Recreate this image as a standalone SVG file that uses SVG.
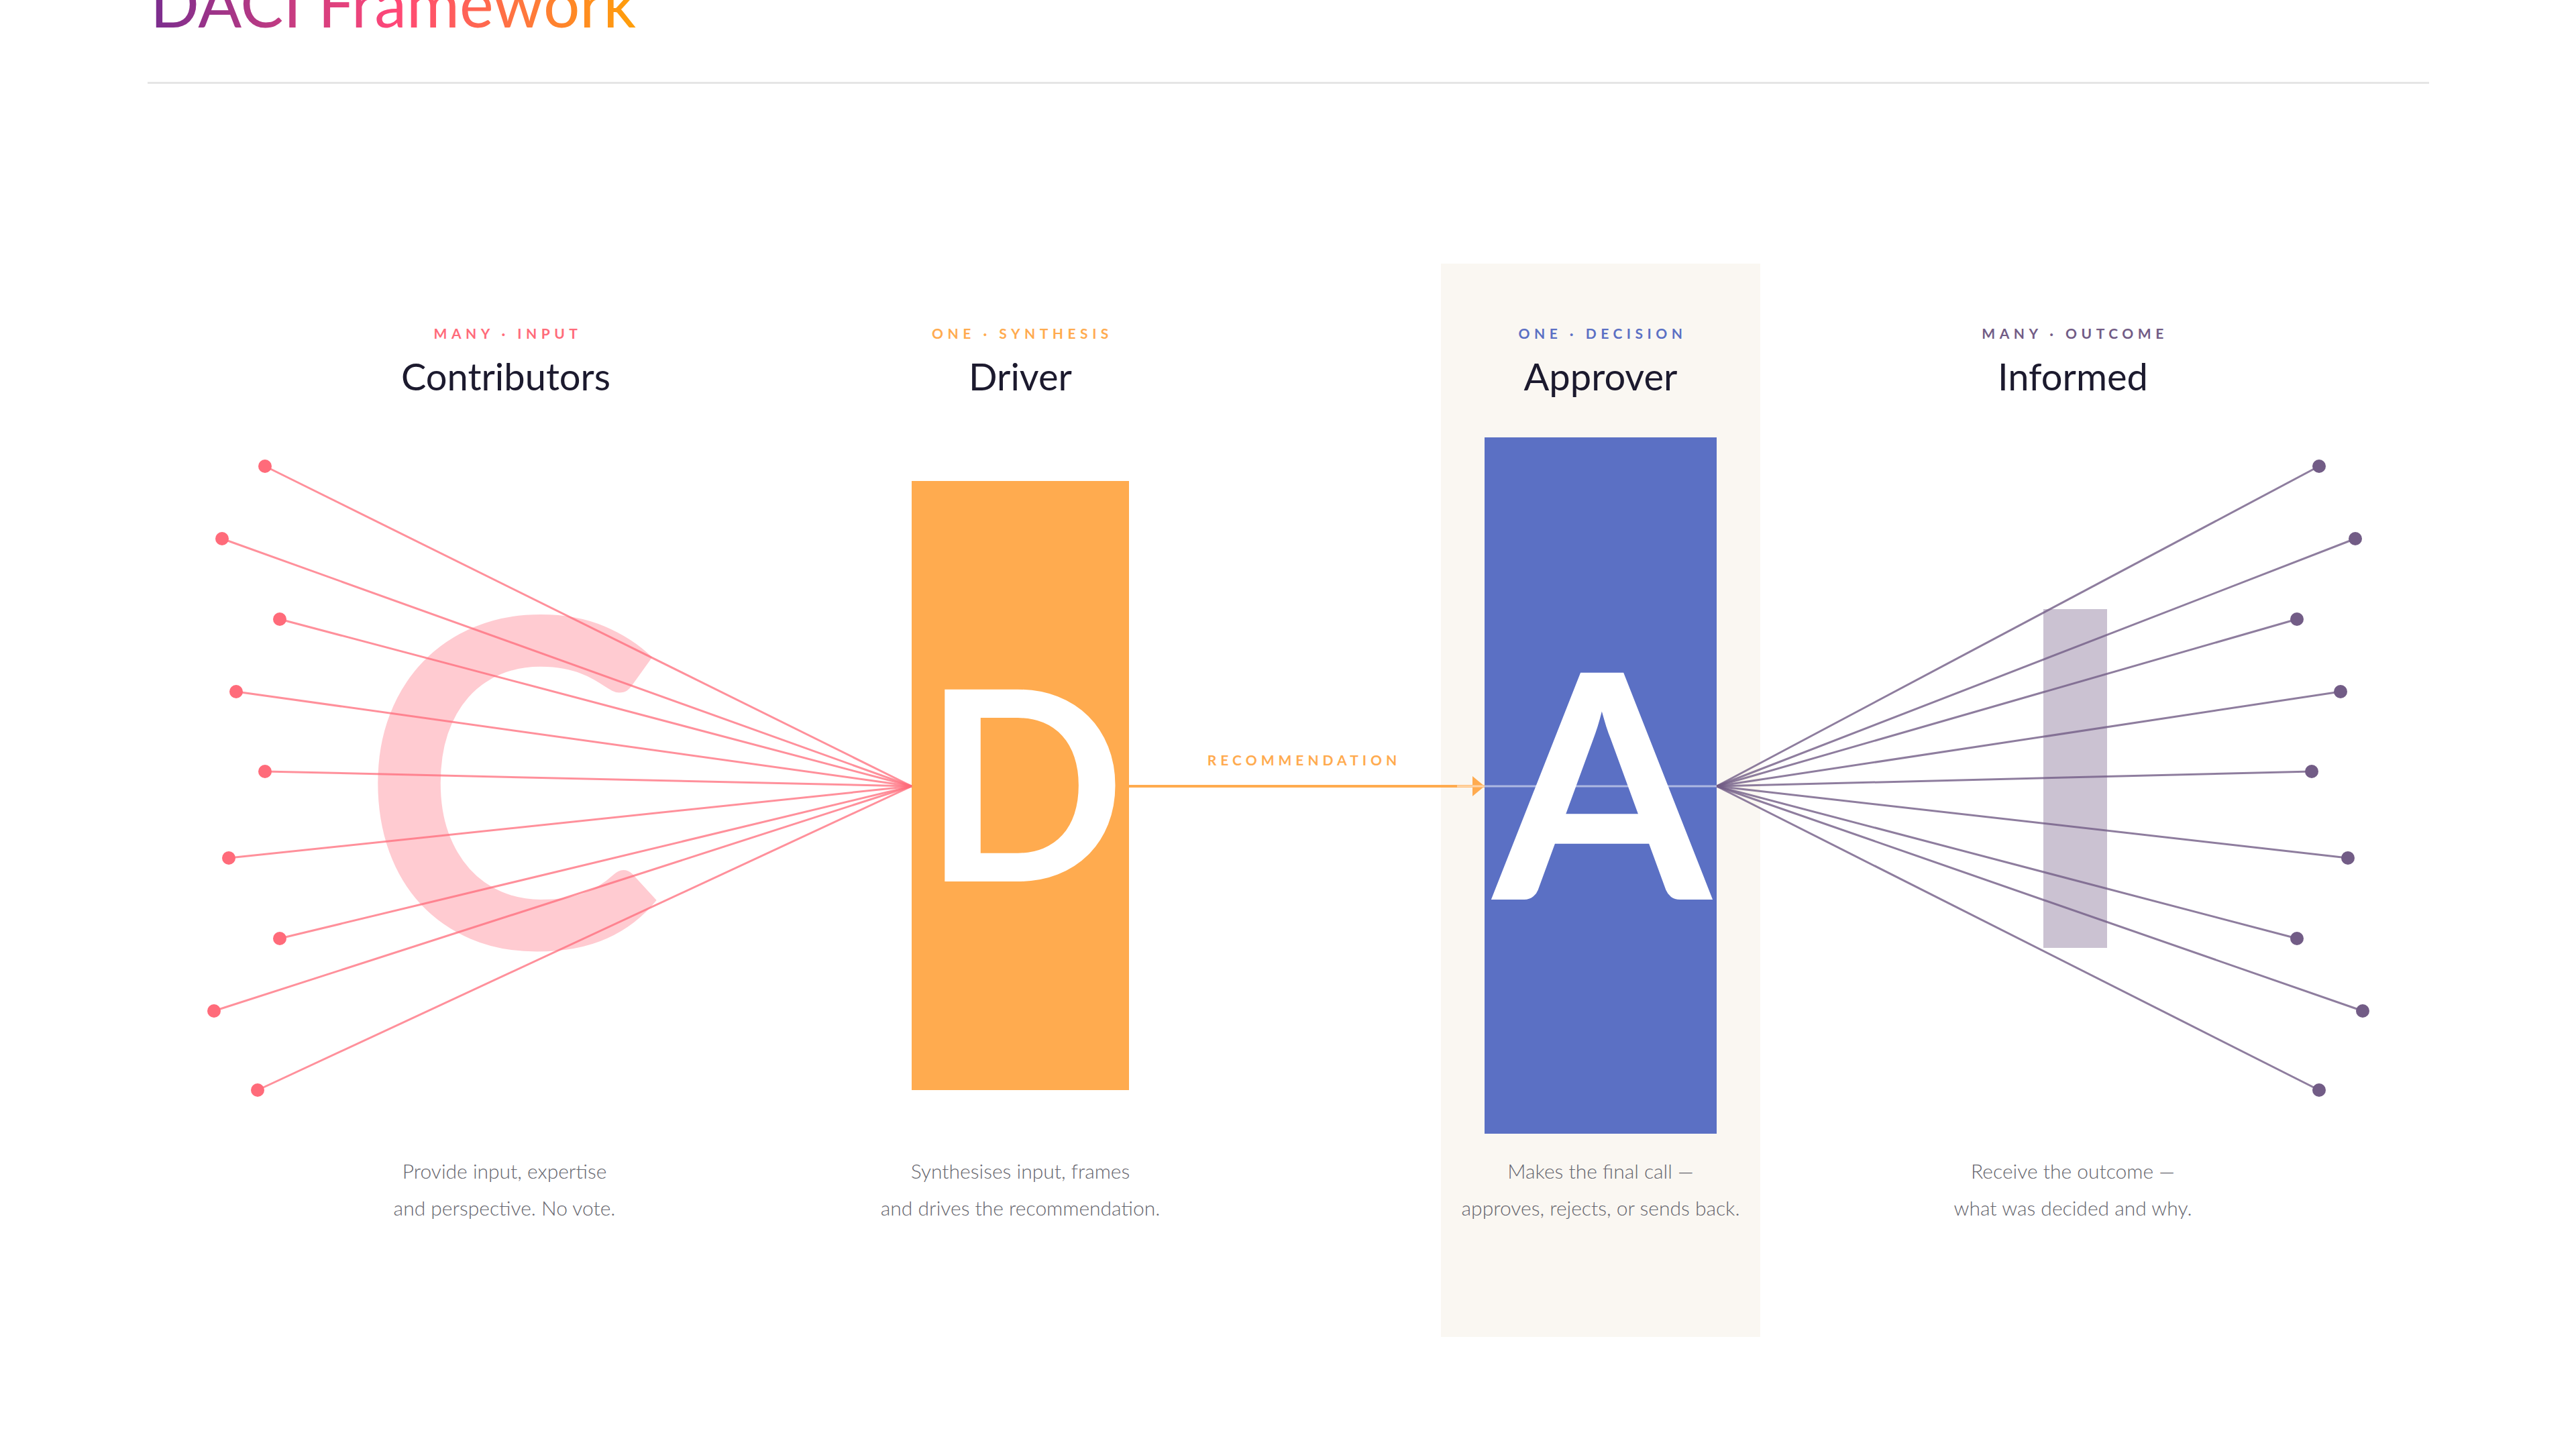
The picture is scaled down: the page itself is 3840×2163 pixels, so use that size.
<svg xmlns="http://www.w3.org/2000/svg" width="3840" height="2163" viewBox="0 0 3840 2163">
<defs>
<linearGradient id="titleGrad" gradientUnits="userSpaceOnUse" x1="228" y1="0" x2="945" y2="0">
<stop offset="0" stop-color="#7B2D8E"/>
<stop offset="0.5" stop-color="#FF4778"/>
<stop offset="1" stop-color="#FF9F0A"/>
</linearGradient>
<marker id="arrowHead" markerUnits="userSpaceOnUse" markerWidth="20" markerHeight="32" refX="18" refY="15" orient="auto">
<path d="M0,0 L18,15 L0,30 Z" fill="#FFAB4F"/>
</marker>
</defs>
<style>
text { font-family: Lato, "Noto Sans", "Liberation Sans", sans-serif; }
.lbl { font-size: 21px; font-weight: 700; letter-spacing: 6.5px; text-anchor: middle; }
.hd { font-size: 56px; font-weight: 400; fill: #1C1A2E; text-anchor: middle; }
.desc { font-size: 30px; font-weight: 300; fill: #66666E; text-anchor: middle; }
.big { font-weight: 700; fill: #FFFFFF; text-anchor: middle; }
.cl { stroke: #FF6B7A; stroke-opacity: 0.75; stroke-width: 3; fill: none; }
.il { stroke: #725C86; stroke-opacity: 0.8; stroke-width: 3; fill: none; }
.cd { fill: #FF6B7A; }
.id { fill: #725C86; }
</style>
<rect width="3840" height="2163" fill="#FFFFFF"/>

<g id="title">
<text x="224" y="41" font-size="96" fill="url(#titleGrad)">DACI Framework</text>
<line x1="220" y1="123.5" x2="3621" y2="123.5" stroke="#E5E5E5" stroke-width="3"/>
</g>

<g id="approver">
<rect x="2148" y="393" width="476" height="1600" fill="#FAF7F2"/>
<text class="lbl" x="2389" y="505" fill="#5B70C4">ONE · DECISION</text>
<text class="hd" x="2386" y="582">Approver</text>
<rect x="2213" y="652" width="346" height="1038" fill="#5B70C4"/>
<text class="big" x="2388" y="1341" font-size="468">A</text>
<text class="desc" x="2386" y="1757">Makes the final call —</text>
<text class="desc" x="2386" y="1812">approves, rejects, or sends back.</text>
</g>

<g id="contributors">
<text class="lbl" x="757" y="505" fill="#FF6B7A">MANY · INPUT</text>
<text class="hd" x="754" y="582">Contributors</text>
<text x="762" y="1413" font-size="680" font-weight="700" fill="#FF6B7A" fill-opacity="0.35" text-anchor="middle">C</text>
<text class="desc" x="752" y="1757">Provide input, expertise</text>
<text class="desc" x="752" y="1812">and perspective. No vote.</text>
</g>

<g id="driver">
<text class="lbl" x="1524" y="505" fill="#FFAB4F">ONE · SYNTHESIS</text>
<text class="hd" x="1521" y="582">Driver</text>
<rect x="1359" y="717" width="324" height="908" fill="#FFAB4F"/>
<text class="big" x="1527" y="1314" font-size="396">D</text>
<text class="desc" x="1521" y="1757">Synthesises input, frames</text>
<text class="desc" x="1521" y="1812">and drives the recommendation.</text>
</g>

<g id="informed">
<text class="lbl" x="3093" y="505" fill="#725C86">MANY · OUTCOME</text>
<text class="hd" x="3090" y="582">Informed</text>
<rect x="3046" y="908" width="95" height="505" fill="#CBC2D2"/>
<text class="desc" x="3090" y="1757">Receive the outcome —</text>
<text class="desc" x="3090" y="1812">what was decided and why.</text>
</g>

<g id="connectors">
<line class="cl" x1="395" y1="695" x2="1359" y2="1172"/>
<line class="cl" x1="331" y1="803" x2="1359" y2="1172"/>
<line class="cl" x1="417" y1="923" x2="1359" y2="1172"/>
<line class="cl" x1="352" y1="1031" x2="1359" y2="1172"/>
<line class="cl" x1="395" y1="1150" x2="1359" y2="1172"/>
<line class="cl" x1="341" y1="1279" x2="1359" y2="1172"/>
<line class="cl" x1="417" y1="1399" x2="1359" y2="1172"/>
<line class="cl" x1="319" y1="1507" x2="1359" y2="1172"/>
<line class="cl" x1="384" y1="1625" x2="1359" y2="1172"/>

<line class="il" x1="2559" y1="1172" x2="3457" y2="695"/>
<line class="il" x1="2559" y1="1172" x2="3511" y2="803"/>
<line class="il" x1="2559" y1="1172" x2="3424" y2="923"/>
<line class="il" x1="2559" y1="1172" x2="3489" y2="1031"/>
<line class="il" x1="2559" y1="1172" x2="3446" y2="1150"/>
<line class="il" x1="2559" y1="1172" x2="3500" y2="1279"/>
<line class="il" x1="2559" y1="1172" x2="3424" y2="1399"/>
<line class="il" x1="2559" y1="1172" x2="3522" y2="1507"/>
<line class="il" x1="2559" y1="1172" x2="3457" y2="1625"/>

<line x1="1683" y1="1172" x2="2213" y2="1172" stroke="#FFAB4F" stroke-width="4" marker-end="url(#arrowHead)"/>
<line x1="2172" y1="1172" x2="2559" y2="1172" stroke="#FFFFFF" stroke-opacity="0.5" stroke-width="3"/>
<text x="1944" y="1141" font-size="21" font-weight="700" letter-spacing="6" fill="#FFAB4F" text-anchor="middle">RECOMMENDATION</text>
</g>

<g id="contributor-points">
<circle class="cd" cx="395" cy="695" r="10"/>
<circle class="cd" cx="331" cy="803" r="10"/>
<circle class="cd" cx="417" cy="923" r="10"/>
<circle class="cd" cx="352" cy="1031" r="10"/>
<circle class="cd" cx="395" cy="1150" r="10"/>
<circle class="cd" cx="341" cy="1279" r="10"/>
<circle class="cd" cx="417" cy="1399" r="10"/>
<circle class="cd" cx="319" cy="1507" r="10"/>
<circle class="cd" cx="384" cy="1625" r="10"/>
</g>

<g id="informed-points">
<circle class="id" cx="3457" cy="695" r="10"/>
<circle class="id" cx="3511" cy="803" r="10"/>
<circle class="id" cx="3424" cy="923" r="10"/>
<circle class="id" cx="3489" cy="1031" r="10"/>
<circle class="id" cx="3446" cy="1150" r="10"/>
<circle class="id" cx="3500" cy="1279" r="10"/>
<circle class="id" cx="3424" cy="1399" r="10"/>
<circle class="id" cx="3522" cy="1507" r="10"/>
<circle class="id" cx="3457" cy="1625" r="10"/>
</g>
</svg>
